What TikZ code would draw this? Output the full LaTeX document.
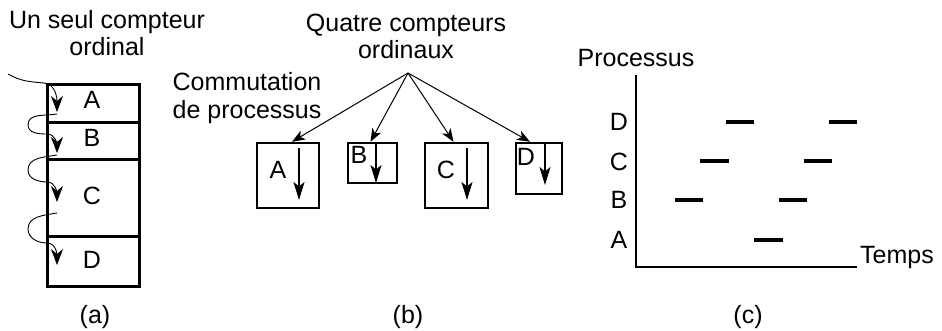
\documentclass[tikz,border=0pt]{standalone}
\usepackage{fontspec}
\setmainfont{Liberation Sans}
\usetikzlibrary{arrows.meta}
\begin{document}
\begin{tikzpicture}[x=1pt,y=-1pt,
  lbl/.style={font=\fontsize{25}{27}\selectfont, inner sep=0pt},
  ttl/.style={font=\fontsize{25}{27}\selectfont, inner sep=0pt, align=center},
  boxa/.style={draw, line width=2.5pt, minimum width=92pt, inner sep=0pt, anchor=north west},
  boxb/.style={draw, line width=2.5pt, inner sep=0pt},
  wavy/.style={line width=0.9pt, -{Stealth[length=16pt,width=12pt,inset=5pt]}},
  conn/.style={line width=1pt, -{Stealth[length=13pt,width=10pt,inset=3.5pt]}},
  inarrow/.style={line width=1.4pt, -{Stealth[length=18pt,width=11pt,inset=4.5pt]}},
  axis/.style={line width=1.1pt},
  bar/.style={line width=4pt}
]
\useasboundingbox (0,0) rectangle (942,330);

% ---------- panel (a) ----------
\node[ttl, anchor=base] (ta1) at (107,28) {Un seul compteur};
\node[ttl, anchor=base] (ta2) at (107,55) {ordinal};
\node[boxa, minimum height=38pt] (aA) at (46,83) {};
\node[boxa, minimum height=37pt] (aB) at (46,121) {};
\node[boxa, minimum height=77pt] (aC) at (46,158) {};
\node[boxa, minimum height=50pt] (aD) at (46,235) {};
\node[lbl] (laA) at (92,100) {A};
\node[lbl] (laB) at (92,138) {B};
\node[lbl] (laC) at (92,196) {C};
\node[lbl] (laD) at (92,260) {D};
\coordinate (w0) at (8,74);
\coordinate (w1e) at (57,112);
\coordinate (w2s) at (57,114);
\coordinate (w2e) at (57,153);
\coordinate (w3s) at (57,155);
\coordinate (w3e) at (57,202);
\coordinate (w4s) at (57,213);
\coordinate (w4e) at (57,265);
\draw[wavy] (w0) to[out=-30,in=175] (44,83) to[out=-5,in=90] (w1e);
\draw[wavy] (w2s) to[out=190,in=90] (28,125) to[out=-90,in=180] (47,134) to[out=0,in=90] (w2e);
\draw[wavy] (w3s) to[out=190,in=90] (28,170) to[out=-90,in=180] (47,182) to[out=0,in=90] (w3e);
\draw[wavy] (w4s) to[out=190,in=90] (28,229) to[out=-90,in=180] (47,243) to[out=0,in=90] (w4e);
\node[lbl] (capa) at (95,317) {(a)};

% ---------- panel (b) ----------
\node[ttl, anchor=base] (tb1) at (406,31) {Quatre compteurs};
\node[ttl, anchor=base] (tb2) at (406,58) {ordinaux};
\node[ttl, anchor=base] (tb3) at (247,90) {Commutation};
\node[ttl, anchor=base] (tb4) at (247,118) {de processus};
\coordinate (src) at (408,73);
\node[boxb, minimum width=62pt, minimum height=65pt] (bA) at (288,175.5) {};
\node[boxb, minimum width=49pt, minimum height=40pt] (bB) at (372.5,163) {};
\node[boxb, minimum width=63pt, minimum height=65pt] (bC) at (456.5,175.5) {};
\node[boxb, minimum width=46pt, minimum height=51pt] (bD) at (539,168.5) {};
\draw[conn] (src) -- ([xshift=4pt]bA.north);
\draw[conn] (src) -- ([xshift=-2pt]bB.north);
\draw[conn] (src) -- ([xshift=-3pt]bC.north);
\draw[conn] (src) -- ([xshift=-9pt]bD.north);
\node[lbl] (lbA) at (278,170) {A};
\node[lbl] (lbB) at (359,155) {B};
\node[lbl] (lbC) at (446,170) {C};
\node[lbl] (lbD) at (526,157) {D};
\draw[inarrow] (299,148) -- (299,200);
\draw[inarrow] (376,143) -- (376,183);
\draw[inarrow] (467,148) -- (467,200);
\draw[inarrow] (545,144) -- (545,185);
\node[lbl] (capb) at (408,317) {(b)};

% ---------- panel (c) ----------
\node[ttl, anchor=base] (tc1) at (636,66) {Processus};
\coordinate (org) at (636,267);
\draw[axis] (636,75) -- (org) -- (857,267);
\node[lbl, anchor=west] (temps) at (860,257) {Temps};
\node[lbl] (lcD) at (619,122) {D};
\node[lbl] (lcC) at (619,162) {C};
\node[lbl] (lcB) at (619,200) {B};
\node[lbl] (lcA) at (619,240) {A};
\draw[bar] (725.5,121.5) -- (753.5,121.5);
\draw[bar] (828.5,121.5) -- (856.5,121.5);
\draw[bar] (700,160.5) -- (728.5,160.5);
\draw[bar] (803.5,160.5) -- (831.5,160.5);
\draw[bar] (674.5,200) -- (702.5,200);
\draw[bar] (778.5,200) -- (806.5,200);
\draw[bar] (754,239.5) -- (782.5,239.5);
\node[lbl] (capc) at (748,317) {(c)};
\end{tikzpicture}
\end{document}
